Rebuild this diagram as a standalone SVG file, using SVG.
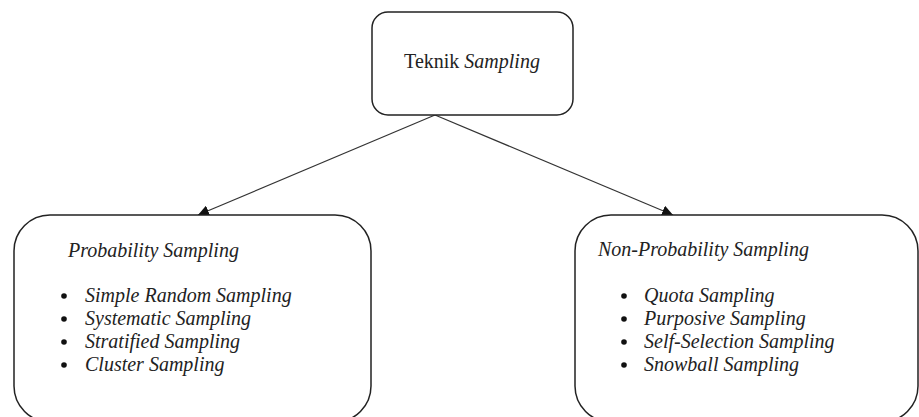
<svg xmlns="http://www.w3.org/2000/svg" width="919" height="417" viewBox="0 0 919 417">
  <defs>
    <marker id="arrow" viewBox="0 0 10 10" refX="10" refY="5" markerWidth="11" markerHeight="11" markerUnits="userSpaceOnUse" orient="auto">
      <path d="M0,0 L10,5 L0,10 Z" fill="#111"/>
    </marker>
    <style>
      .box { fill: #fff; stroke: #222; stroke-width: 1.5; }
      .edge { stroke: #333; stroke-width: 1.2; fill: none; marker-end: url(#arrow); }
      .lbl { font-family: 'Liberation Serif', 'Times New Roman', Times, serif; font-size: 20px; fill: #222; }
      .it { font-style: italic; }
      .dot { fill: #111; }
    </style>
  </defs>
  <rect width="919" height="417" fill="#fff"/>

  <g id="connectors">
    <line class="edge" x1="435" y1="115" x2="198" y2="215"/>
    <line class="edge" x1="435" y1="115" x2="673" y2="215"/>
  </g>

  <g id="teknik-sampling">
    <rect class="box" x="372" y="12" width="201" height="103" rx="16"/>
    <text class="lbl" x="472" y="68" text-anchor="middle" font-family="Liberation Serif">Teknik <tspan class="it">Sampling</tspan></text>
  </g>

  <g id="probability-sampling">
    <rect class="box" x="14" y="215" width="357" height="207" rx="36"/>
    <text class="lbl it" x="68" y="257">Probability Sampling</text>
    <circle class="dot" cx="64" cy="296" r="2.8"/>
    <circle class="dot" cx="64" cy="319" r="2.8"/>
    <circle class="dot" cx="64" cy="342" r="2.8"/>
    <circle class="dot" cx="64" cy="365" r="2.8"/>
    <text class="lbl it" x="85" y="302">Simple Random Sampling</text>
    <text class="lbl it" x="85" y="325">Systematic Sampling</text>
    <text class="lbl it" x="85" y="348">Stratified Sampling</text>
    <text class="lbl it" x="85" y="371">Cluster Sampling</text>
  </g>

  <g id="non-probability-sampling">
    <rect class="box" x="575" y="215" width="343" height="207" rx="36"/>
    <text class="lbl it" x="598" y="256">Non-Probability Sampling</text>
    <circle class="dot" cx="624" cy="296" r="2.8"/>
    <circle class="dot" cx="624" cy="319" r="2.8"/>
    <circle class="dot" cx="624" cy="342" r="2.8"/>
    <circle class="dot" cx="624" cy="365" r="2.8"/>
    <text class="lbl it" x="644" y="302">Quota Sampling</text>
    <text class="lbl it" x="644" y="325">Purposive Sampling</text>
    <text class="lbl it" x="644" y="348">Self-Selection Sampling</text>
    <text class="lbl it" x="644" y="371">Snowball Sampling</text>
  </g>
</svg>
